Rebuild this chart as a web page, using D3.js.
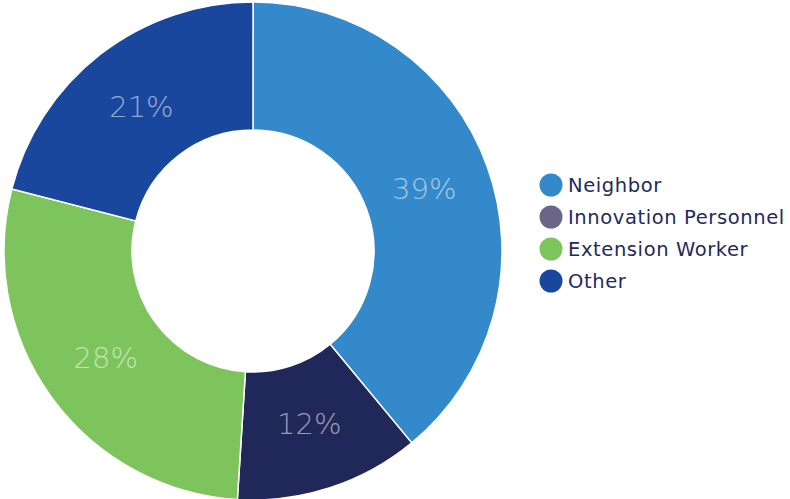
<!DOCTYPE html>
<html>
<head>
<meta charset="utf-8">
<script src="https://cdn.jsdelivr.net/npm/d3@7"></script>
<style>
  html, body { margin: 0; padding: 0; background: #fff; }
  svg { display: block; }
</style>
</head>
<body>
<svg id="chart" width="790" height="499"></svg>
<script>
// Source of information, share of respondents (%)
const categories = ["Neighbor", "Innovation Personnel", "Extension Worker", "Other"];
const shares = [39, 12, 28, 21];
const sliceColors = ["#3389c9", "#202759", "#7ec45c", "#18479d"];
const legendColors = ["#3389c9", "#6a6688", "#7ec45c", "#18479d"];

const svg = d3.select("#chart");
const cx = 253, cy = 251;
const outerR = 249, innerR = 121;

const data = categories.map((c, i) => ({ name: c, value: shares[i], i }));

const pie = d3.pie().value(d => d.value).sort(null);
const arc = d3.arc().innerRadius(innerR).outerRadius(outerR);
const labelArc = d3.arc().innerRadius(182).outerRadius(182);

const g = svg.append("g").attr("transform", `translate(${cx},${cy})`);
const arcs = pie(data);

g.selectAll("path.slice")
  .data(arcs)
  .join("path")
  .attr("class", "slice")
  .attr("d", arc)
  .attr("fill", d => sliceColors[d.data.i])
  .attr("stroke", "#fff")
  .attr("stroke-width", 1.5);

g.selectAll("text.pct")
  .data(arcs)
  .join("text")
  .attr("class", "pct")
  .attr("transform", d => `translate(${labelArc.centroid(d)})`)
  .attr("text-anchor", "middle")
  .attr("dominant-baseline", "central")
  .attr("font-family", "'DejaVu Sans', sans-serif")
  .attr("font-weight", 200)
  .attr("font-size", 29)
  .attr("fill", "#ffffff")
  .attr("fill-opacity", 0.55)
  .text(d => d.data.value + "%");

// Legend
const legend = svg.append("g").attr("transform", "translate(551,185)");
const rows = legend.selectAll("g.row")
  .data(data)
  .join("g")
  .attr("class", "row")
  .attr("transform", (d, i) => `translate(0,${i * 32})`);

rows.append("circle")
  .attr("r", 11.5)
  .attr("fill", d => legendColors[d.i]);

rows.append("text")
  .attr("x", 17)
  .attr("dominant-baseline", "central")
  .attr("font-family", "'DejaVu Sans', sans-serif")
  .attr("font-size", 19.5)
  .attr("letter-spacing", 0.6)
  .attr("fill", "#1f2a5a")
  .text(d => d.name);
</script>
</body>
</html>
